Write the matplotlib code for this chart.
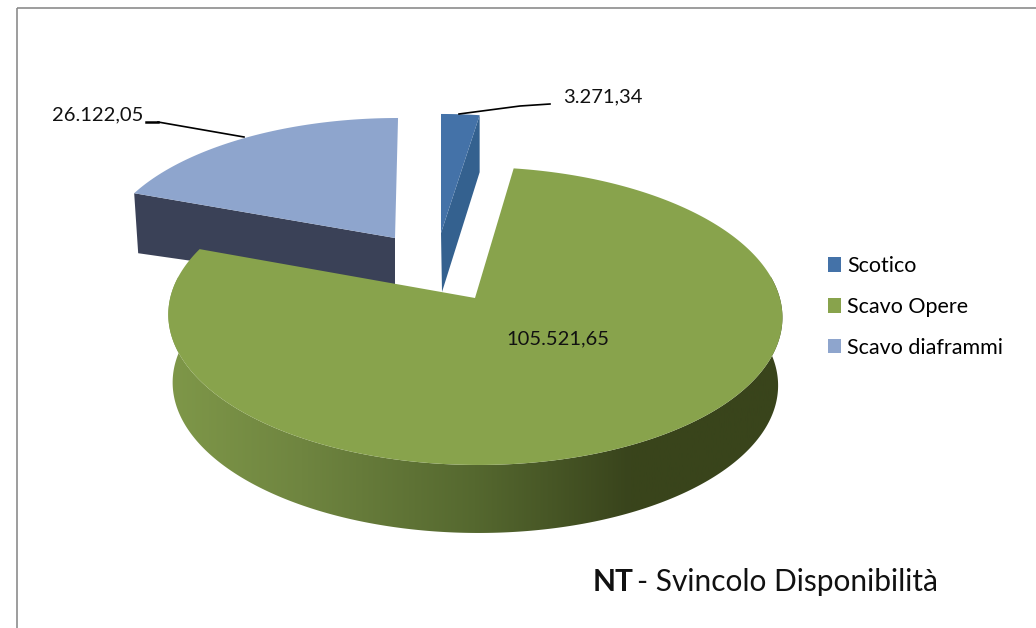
import numpy as np
import matplotlib
matplotlib.use("Agg")
import matplotlib.pyplot as plt
from matplotlib.patches import Polygon, Patch, Rectangle
from matplotlib.colors import LinearSegmentedColormap

categories = ["Scotico", "Scavo Opere", "Scavo diaframmi"]
values = [3271.34, 105521.65, 26122.05]
value_labels = ["3.271,34", "105.521,65", "26.122,05"]
top_colors = ["#4472a8", "#88a34c", "#8ea5cd"]
side_colors = ["#34618f", None, "#3a4157"]

plt.rcParams["font.family"] = ["Lato", "DejaVu Sans"]
fig = plt.figure(figsize=(10.36, 6.28), dpi=100)
ax = fig.add_axes([0, 0, 1, 1])
ax.set_xlim(0, 1036)
ax.set_ylim(628, 0)
ax.axis("off")

# angles from the data, clockwise from 12 o'clock
fr = np.array(values) / sum(values) * 2 * np.pi
edges = np.concatenate([[0], np.cumsum(fr)])
P = 0.1208


def rim(t, cx, cy, A, B, shear=0.0):
    u, v = np.sin(t), np.cos(t)
    d = 1 + P * v
    return np.column_stack([cx + (A * u + shear * v) / d, cy - B * v / d])


def arc(a, b, n=200, **kw):
    return rim(np.linspace(a, b, n), **kw)


# Scotico (exploded)
sc = dict(cx=441, cy=233, A=285, B=133.4)
o = arc(edges[0], edges[1], 12, **sc)
ax.add_patch(Polygon([o[-1], o[-1] + [0, 57], [442, 292], [sc["cx"], sc["cy"]]],
                     fc=side_colors[0], ec="none", zorder=1))
ax.add_patch(Polygon(np.vstack([[[sc["cx"], sc["cy"]]], o]), fc=top_colors[0], ec="none", zorder=2))

# Scavo diaframmi (exploded)
di = dict(cx=395, cy=238, A=291, B=134.5, shear=3.4)
o = arc(edges[2], edges[3], 80, **di)
ax.add_patch(Polygon([o[0], o[0] + [4, 60], [395, 290], [di["cx"], di["cy"]]],
                     fc=side_colors[2], ec="none", zorder=1))
ax.add_patch(Polygon(np.vstack([[[di["cx"], di["cy"]]], o]), fc=top_colors[2], ec="none", zorder=2))

# Scavo Opere: side with horizontal gradient, then top face
gr_top = dict(cx=475, cy=298, A=304.8, B=146.8, shear=-3)
gr_bot = dict(cx=475, cy=366, A=300.5, B=146.8, shear=-3)
t_front = np.linspace(np.pi / 2 - 0.15, 3 * np.pi / 2 + 0.15, 300)
side = np.vstack([rim(t_front, **gr_top), rim(t_front[::-1], **gr_bot)])
cmap = LinearSegmentedColormap.from_list(
    "side", [(0, "#7f9849"), (0.22, "#6f8540"), (0.5, "#55682f"),
             (0.75, "#39441c"), (1, "#39441b")])
im = ax.imshow(np.linspace(0, 1, 256)[None, :], cmap=cmap, extent=[165, 785, 628, 0],
               aspect="auto", zorder=3)
clip = Polygon(side, transform=ax.transData, fc="none", ec="none")
ax.add_patch(clip)
im.set_clip_path(clip)
ax.set_xlim(0, 1036)
ax.set_ylim(628, 0)

o = arc(edges[1], edges[2], 400, **gr_top)
ax.add_patch(Polygon(np.vstack([[[gr_top["cx"], gr_top["cy"]]], o]),
                     fc=top_colors[1], ec="none", zorder=4))

# leader lines and labels
ax.plot([459, 520, 550], [114, 106, 104], color="black", lw=1.2, zorder=6)
ax.plot([158, 244], [122, 137], color="black", lw=1.2, zorder=6)
ax.plot([146, 158], [122, 122], color="black", lw=1.8, zorder=6)
ax.text(563, 97, value_labels[0], fontsize=14.5, va="center", ha="left", color="#111111")
ax.text(558, 339, value_labels[1], fontsize=14.5, va="center", ha="center", color="#111111", zorder=7)
ax.text(52, 115, value_labels[2], fontsize=14.5, va="center", ha="left", color="#111111")

# legend
handles = [Patch(fc=c, ec="none", label=n) for c, n in zip(top_colors, categories)]
ax.legend(handles=handles, loc="upper left", bbox_to_anchor=(828 / 1036, 1 - 256 / 628),
          frameon=False, fontsize=15.5, labelspacing=0.97, handlelength=0.62,
          handleheight=0.65, handletextpad=0.26, borderaxespad=0, borderpad=0)

# caption
ax.text(593, 582, "NT", fontsize=21.5, fontweight="bold", va="center", ha="left", color="#111111")
ax.text(637, 582, "- Svincolo Disponibilità", fontsize=21.5, va="center", ha="left", color="#111111")

# chart frame: top and left edges reach the image border
ax.add_patch(Rectangle((17, 8), 1100, 700, fc="none", ec="#8c8c8c", lw=1.2, zorder=8, clip_on=True))

fig.savefig("out.png", dpi=100)
